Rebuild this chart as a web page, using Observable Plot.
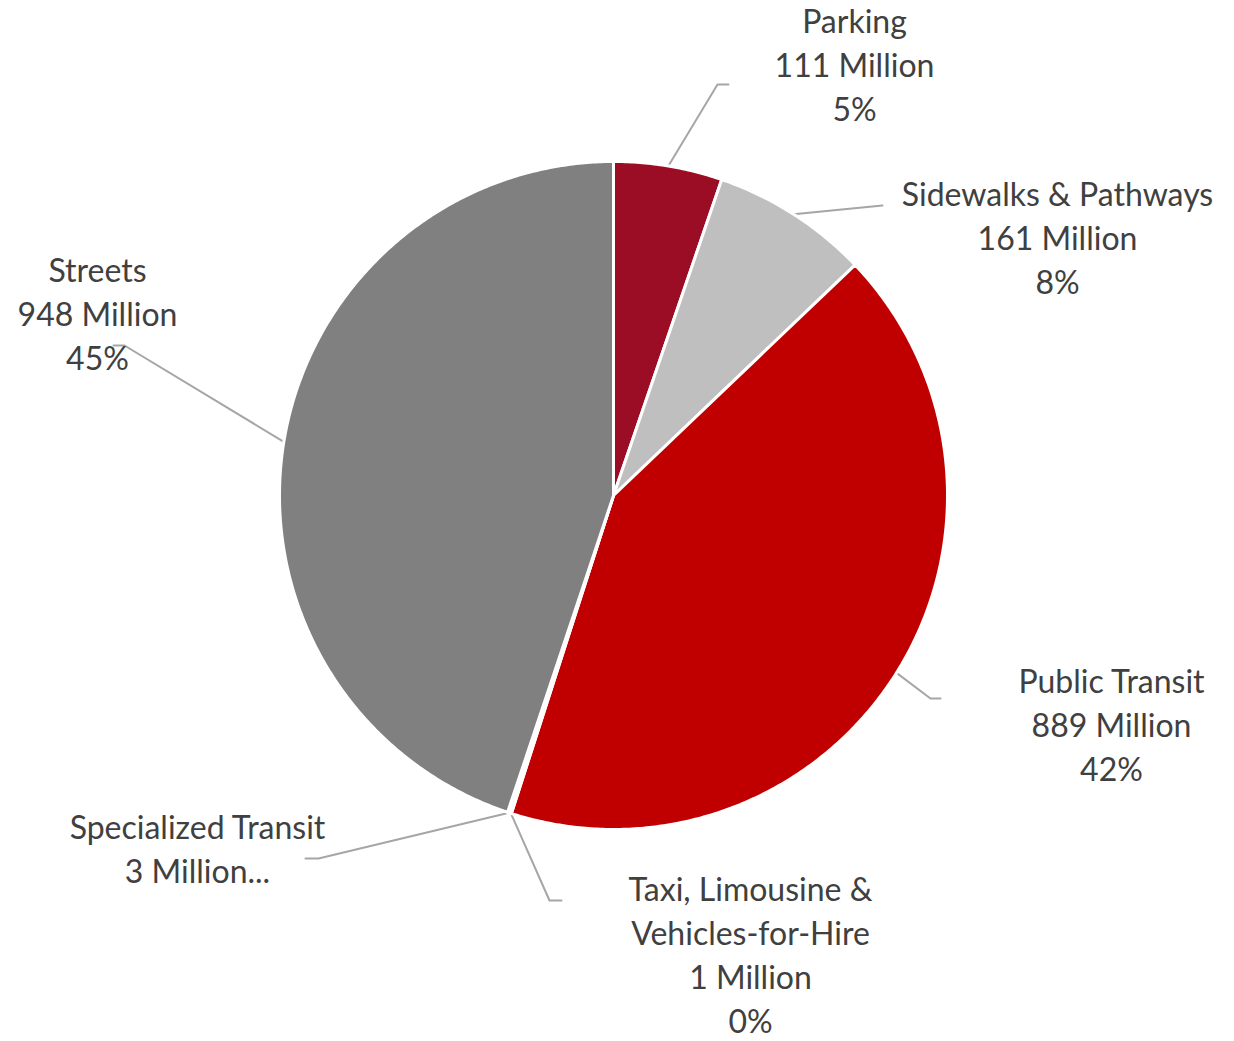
<!DOCTYPE html>
<html>
<head>
<meta charset="utf-8">
<script src="https://cdn.jsdelivr.net/npm/d3@7"></script>
<script src="https://cdn.jsdelivr.net/npm/@observablehq/plot@0.6"></script>
<style>
  html, body { margin: 0; padding: 0; background: #fff; }
  #chart svg { display: block; }
</style>
</head>
<body>
<div id="chart"></div>
<script>
// ---- data ----
const categories = ["Parking", "Sidewalks & Pathways", "Public Transit",
  "Taxi, Limousine &\nVehicles-for-Hire", "Specialized Transit", "Streets"];
const values = [111, 161, 889, 1, 3, 948];          // millions
const valueLabels = ["111 Million", "161 Million", "889 Million", "1 Million", "3 Million...", "948 Million"];
const percentLabels = ["5%", "8%", "42%", "0%", "", "45%"];
const colors = ["#9B0D24", "#BFBFBF", "#C00000", "#E06666", "#595959", "#808080"];

// ---- layout (pixel geometry, not data) ----
const W = 1234, H = 1041;
const cx = 613, cy = 495, R = 334;
// label block centres and leader-line elbow/end points
const labelPos = [[854, 62], [1057, 235], [1111, 722], [750, 952], [197, 846], [97, 311]];
const leaderPath = [
  [[717, 84], [728, 84]],
  [[882, 205]],
  [[930, 698], [940, 698]],
  [[549, 900], [561, 900]],
  [[318, 858], [305, 858]],
  [[124, 345], [113, 345]]
];

const pie = d3.pie().sort(null).value(d => d.value);
const rows = categories.map((c, i) => ({name: c, value: values[i], i}));
const arcs = pie(rows);
const pt = (a, r) => [cx + r * Math.sin(a), cy - r * Math.cos(a)];

// slice polygons
const slicePts = [];
for (const a of arcs) {
  const n = Math.max(2, Math.ceil((a.endAngle - a.startAngle) / (Math.PI / 360)) + 1);
  slicePts.push({name: a.data.name, x: cx, y: cy});
  for (let k = 0; k < n; k++) {
    const ang = a.startAngle + (a.endAngle - a.startAngle) * k / (n - 1);
    const [x, y] = pt(ang, R);
    slicePts.push({name: a.data.name, x, y});
  }
}

// leader lines
const leaderPts = [];
arcs.forEach((a, i) => {
  const mid = (a.startAngle + a.endAngle) / 2;
  const [x0, y0] = pt(mid, R);
  leaderPts.push({name: a.data.name, x: x0, y: y0});
  for (const [x, y] of leaderPath[i]) leaderPts.push({name: a.data.name, x, y});
});

// labels
const labels = rows.map((d, i) => ({
  x: labelPos[i][0], y: labelPos[i][1],
  text: [categories[i], valueLabels[i], percentLabels[i]].filter(s => s).join("\n")
}));

const chart = Plot.plot({
  width: W, height: H,
  margin: 0,
  x: {domain: [0, W], range: [0, W], axis: null},
  y: {domain: [0, H], range: [0, H], axis: null},
  color: {domain: categories, range: colors},
  style: {fontFamily: "Lato, 'Open Sans', sans-serif", background: "#fff"},
  marks: [
    Plot.line(leaderPts, {x: "x", y: "y", z: "name", stroke: "#A6A6A6", strokeWidth: 2, curve: "linear"}),
    Plot.line(slicePts, {x: "x", y: "y", z: "name", fill: "name", stroke: "#fff", strokeWidth: 3,
      strokeLinejoin: "round", curve: "linear-closed"}),
    Plot.text(labels, {x: "x", y: "y", text: "text", fontSize: 32, lineHeight: 1.375,
      fill: "#404040", textAnchor: "middle", lineAnchor: "middle"})
  ]
});
document.getElementById("chart").appendChild(chart);
</script>
</body>
</html>
